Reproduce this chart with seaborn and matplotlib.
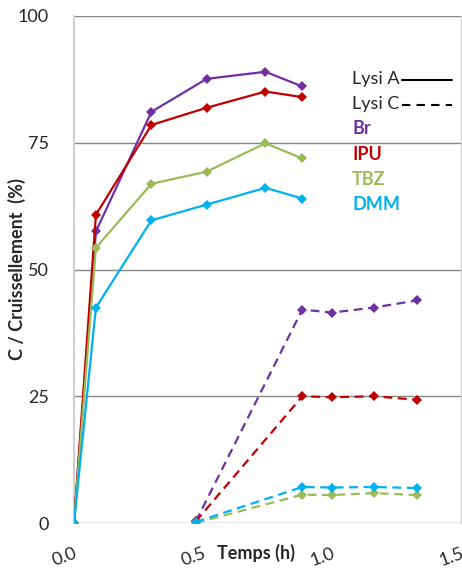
import matplotlib
matplotlib.use("Agg")
import matplotlib.pyplot as plt
import seaborn as sns
import pandas as pd

sns.set_style("white")
plt.rcParams['font.family'] = ['Lato', 'DejaVu Sans']

# Data
t_a = [0.0, 0.085, 0.30, 0.514, 0.742, 0.885]
br_a = [0.0, 57.5, 81.1, 87.6, 89.0, 86.1]
ipu_a = [0.0, 60.8, 78.5, 81.9, 85.1, 84.0]
tbz_a = [0.0, 54.3, 66.9, 69.3, 74.9, 71.9]
dmm_a = [0.0, 42.5, 59.7, 62.8, 66.1, 64.0]

t_c = [0.472, 0.885, 1.0, 1.163, 1.33]
br_c = [0.3, 42.1, 41.5, 42.5, 43.9]
ipu_c = [0.3, 25.0, 24.8, 25.0, 24.3]
tbz_c = [0.0, 5.6, 5.5, 5.9, 5.5]
dmm_c = [0.2, 7.1, 7.0, 7.1, 6.9]

names = ["Br", "IPU", "TBZ", "DMM"]
colors = ["#7030A0", "#C00000", "#9BBB59", "#00B0F0"]
y_ticks = [0, 25, 50, 75, 100]
x_ticks = [0.0, 0.5, 1.0, 1.5]
x_tick_labels = ["0.0", "0.5", "1.0", "1.5"]

fig = plt.figure(figsize=(4.62, 5.70), dpi=100)
ax = fig.add_axes([74/462, 47/570, 387/462, 507/570])

series_a = [br_a, ipu_a, tbz_a, dmm_a]
series_c = [br_c, ipu_c, tbz_c, dmm_c]

for name, col, ya in zip(names, colors, series_a):
    df = pd.DataFrame({"t": t_a, "v": ya})
    sns.lineplot(data=df, x="t", y="v", ax=ax, color=col, marker="D",
                 markersize=5, markeredgewidth=0, linewidth=1.6, legend=False,
                 zorder=3)
for name, col, yc in zip(names, colors, series_c):
    df = pd.DataFrame({"t": t_c, "v": yc})
    sns.lineplot(data=df, x="t", y="v", ax=ax, color=col, marker="D",
                 markersize=5, markeredgewidth=0, linewidth=1.6, legend=False,
                 dashes=False, linestyle=(0, (4, 2.5)), zorder=3)

ax.set_xlim(0, 1.5)
ax.set_ylim(0, 100)
ax.set_yticks(y_ticks)
ax.set_yticklabels([str(v) for v in y_ticks], fontsize=13)
ax.set_xticks(x_ticks)
ax.set_xticklabels(x_tick_labels, fontsize=13, rotation=20, ha="right",
                   rotation_mode="anchor")
ax.yaxis.grid(True, color="#868686", linewidth=1)
ax.set_axisbelow(True)

for s in ["top", "bottom"]:
    ax.spines[s].set_visible(False)
ax.spines["left"].set_color("#D0D0D0")
ax.spines["left"].set_linewidth(1.5)
ax.spines["right"].set_color("#D0D0D0")
ax.spines["right"].set_linewidth(1.0)

ax.tick_params(axis="y", length=6, color="#868686", width=1, pad=12)
ax.tick_params(axis="x", length=6, color="#C8C8C8", width=1.2, pad=10,
               direction="out")

ax.set_xlabel("")
ax.set_ylabel("C / Cruissellement  (%)", fontsize=13, fontweight="bold",
              labelpad=14)
ax.yaxis.set_label_coords(-0.125, 0.5)
fig.text(256/462, 1 - 553/570, "Temps (h)", fontsize=13, fontweight="bold",
         ha="center", va="center")

# Legend-like annotations
lx = 352/462
fig.text(lx, 1 - 79/570, "Lysi A", fontsize=13, ha="left", va="center")
fig.text(lx, 1 - 104/570, "Lysi C", fontsize=13, ha="left", va="center")
fig.add_artist(plt.Line2D([402/462, 452/462], [1 - 80/570, 1 - 80/570],
                          color="black", linewidth=1.5))
fig.add_artist(plt.Line2D([402/462, 452/462], [1 - 105/570, 1 - 105/570],
                          color="black", linewidth=1.5,
                          linestyle=(0, (4, 3))))
for i, (name, col) in enumerate(zip(names, colors)):
    fig.text(lx, 1 - (129 + 25.2 * i)/570, name, fontsize=13,
             fontweight="bold", color=col, ha="left", va="center")

fig.savefig("out.png", dpi=100)
